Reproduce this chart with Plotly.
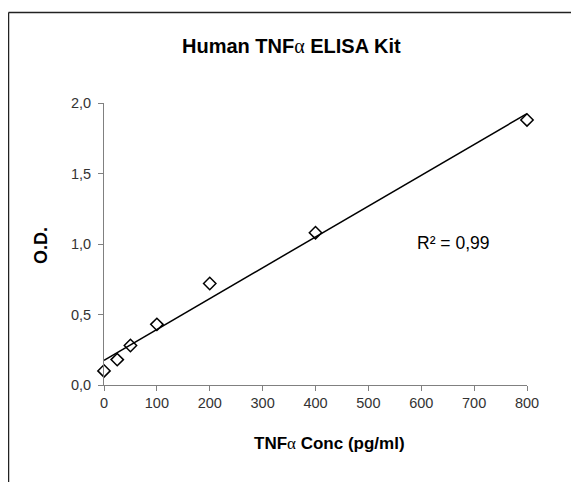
import numpy as np
import plotly.graph_objects as go

conc = [0, 25, 50, 100, 200, 400, 800]
od = [0.10, 0.18, 0.28, 0.43, 0.72, 1.08, 1.88]
x_ticks = [0, 100, 200, 300, 400, 500, 600, 700, 800]
y_ticks = [0.0, 0.5, 1.0, 1.5, 2.0]
ALPHA = '<span style="font-family:Liberation Serif, serif;font-weight:normal">α</span>'
title_text = "Human TNF" + ALPHA + " ELISA Kit"
x_title = "TNF" + ALPHA + " Conc (pg/ml)"
y_title = "O.D."
r2_text = "R² = 0,99"

slope, intercept = np.polyfit(conc, od, 1)
fit_x = [min(conc), max(conc)]
fit_y = [intercept + slope * v for v in fit_x]

OFF = 8  # page body margin
W, H = 579 - OFF, 482 - OFF
L, R, T, B = 104 - OFF, 52, 103 - OFF, 97
pw, ph = W - L - R, H - T - B


def px(xpage):
    return (xpage - OFF - L) / pw


def py(ypage):
    return (H - B - (ypage - OFF)) / ph


FONT = "Liberation Sans, Arial, sans-serif"

fig = go.Figure()
fig.add_trace(go.Scatter(x=fit_x, y=fit_y, mode="lines", cliponaxis=False,
                         line=dict(color="black", width=1.5), showlegend=False, hoverinfo="skip"))
fig.add_trace(go.Scatter(x=conc, y=od, mode="markers", cliponaxis=False,
                         marker=dict(symbol="diamond-open", size=9.5, color="black",
                                     line=dict(color="black", width=1.5)),
                         showlegend=False))

fig.update_layout(
    width=W, height=H,
    margin=dict(l=L, r=R, t=T, b=B),
    paper_bgcolor="white", plot_bgcolor="white",
    separators=", ",
    font=dict(family=FONT, size=14.5, color="#333333"),
    xaxis=dict(range=[0, 800], tickvals=x_ticks, showgrid=False, zeroline=False,
               showline=True, linecolor="#808080", linewidth=1,
               ticks="outside", ticklen=5, tickcolor="#808080",
               tickfont=dict(size=14.5, color="#333333")),
    yaxis=dict(range=[0, 2], tickvals=y_ticks, tickformat=".1f", showgrid=False, zeroline=False,
               showline=True, linecolor="#808080", linewidth=1,
               ticks="outside", ticklen=5, tickcolor="#808080", ticklabelstandoff=4,
               tickfont=dict(size=14.5, color="#333333")),
    shapes=[
        dict(type="line", xref="paper", yref="paper", x0=px(8.5), x1=px(600), y0=py(12.5), y1=py(12.5),
             line=dict(color="#222222", width=1.5)),
        dict(type="line", xref="paper", yref="paper", x0=px(8.5), x1=px(8.5), y0=py(12.5), y1=py(500),
             line=dict(color="#222222", width=1.5)),
    ],
    annotations=[
        dict(text="<b>" + title_text + "</b>", xref="paper", yref="paper", x=px(291), y=py(46),
             xanchor="center", yanchor="middle", showarrow=False,
             font=dict(family=FONT, size=20, color="black")),
        dict(text="<b>" + x_title + "</b>", xref="paper", yref="paper", x=px(329), y=py(443),
             xanchor="center", yanchor="middle", showarrow=False,
             font=dict(family=FONT, size=17, color="black")),
        dict(text="<b>" + y_title + "</b>", xref="paper", yref="paper", x=px(41), y=py(246),
             xanchor="center", yanchor="middle", showarrow=False, textangle=-90,
             font=dict(family=FONT, size=18, color="black")),
        dict(text=r2_text, xref="paper", yref="paper", x=px(453), y=py(243),
             xanchor="center", yanchor="middle", showarrow=False,
             font=dict(family=FONT, size=17.5, color="black")),
    ],
)

fig.write_html("out.html")
